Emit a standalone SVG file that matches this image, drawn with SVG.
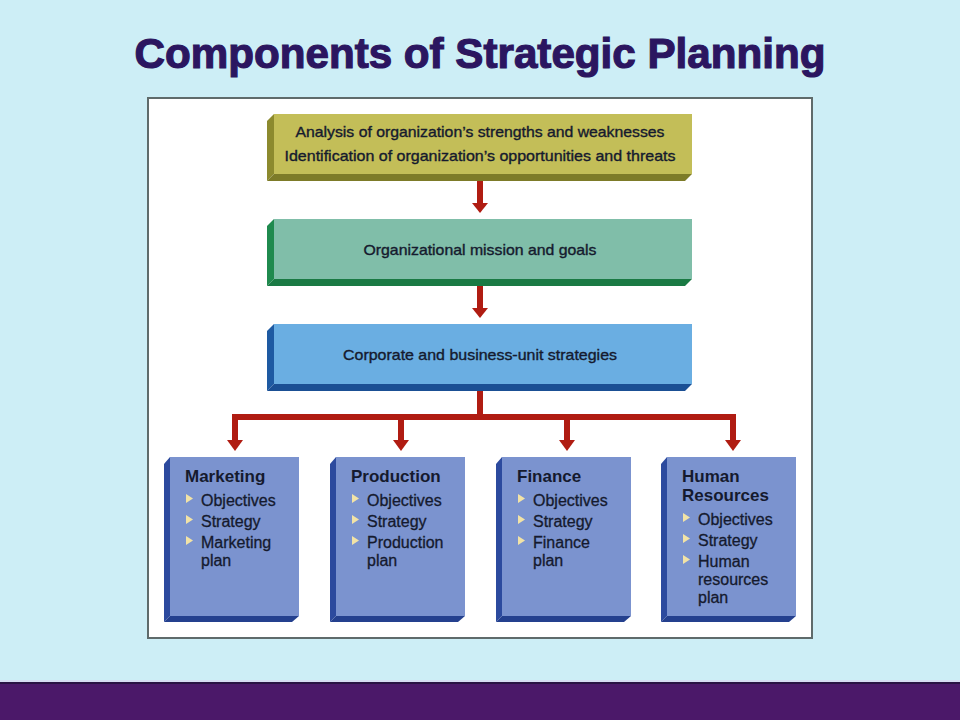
<svg xmlns="http://www.w3.org/2000/svg" width="960" height="720" viewBox="0 0 960 720">
<style>
.t{font-family:"Liberation Sans",Arial,sans-serif;fill:#151a2e}
.top{font-size:14.5px;text-anchor:middle;stroke:#151a2e;stroke-width:0.35px}
.hd{font-size:17px;font-weight:bold}
.it{font-size:16px;stroke:#151a2e;stroke-width:0.3px}
.bl{fill:#f2e3a6}
.con{fill:#b01c12}
.bf{fill:#7b93cf}
.bs{fill:#2c4a9e}
.bb{fill:#24408e}
</style>
<rect width="960" height="720" fill="#cdeef6"/>
<rect x="0" y="680" width="960" height="2" fill="#d6dcf2"/>
<rect x="0" y="682" width="960" height="2" fill="#2a1244"/>
<rect x="0" y="684" width="960" height="36" fill="#4b1869"/>
<text x="480" y="68" class="t" style="font-size:43px;font-weight:bold;fill:#2b1660;stroke:#2b1660;stroke-width:1.2px;text-anchor:middle" textLength="691" lengthAdjust="spacingAndGlyphs">Components of Strategic Planning</text>
<rect x="148" y="98" width="664" height="540" fill="#ffffff" stroke="#5f6b6b" stroke-width="2"/>

<g id="connectors">
<rect class="con" x="477" y="181" width="6" height="24"/>
<polygon class="con" points="472,203 488,203 480,213"/>
<rect class="con" x="477" y="286" width="6" height="24"/>
<polygon class="con" points="472,308 488,308 480,318"/>
<rect class="con" x="477" y="391" width="6" height="26"/>
<rect class="con" x="232" y="414" width="504" height="6"/>
<rect class="con" x="232" y="414" width="6" height="28"/>
<polygon class="con" points="227,440 243,440 235,451"/>
<rect class="con" x="398" y="414" width="6" height="28"/>
<polygon class="con" points="393,440 409,440 401,451"/>
<rect class="con" x="564" y="414" width="6" height="28"/>
<polygon class="con" points="559,440 575,440 567,451"/>
<rect class="con" x="730" y="414" width="6" height="28"/>
<polygon class="con" points="725,440 741,440 733,451"/>
</g>

<g id="analysis">
<polygon points="274,114 267,121 267,181 274,174" fill="#8c8a2e"/>
<polygon points="267,181 685,181 692,174 274,174" fill="#7d7b28"/>
<rect x="274" y="114" width="418" height="60" fill="#c3be58"/>
<text class="t top" x="480" y="137" textLength="369" lengthAdjust="spacingAndGlyphs">Analysis of organization’s strengths and weaknesses</text>
<text class="t top" x="480" y="161" textLength="391" lengthAdjust="spacingAndGlyphs">Identification of organization’s opportunities and threats</text>
</g>

<g id="mission">
<polygon points="274,219 267,226 267,286 274,279" fill="#1f8a4e"/>
<polygon points="267,286 685,286 692,279 274,279" fill="#1a7a44"/>
<rect x="274" y="219" width="418" height="60" fill="#80bea9"/>
<text class="t top" x="480" y="255" textLength="233" lengthAdjust="spacingAndGlyphs">Organizational mission and goals</text>
</g>

<g id="corporate">
<polygon points="274,324 267,331 267,391 274,384" fill="#1e5aa2"/>
<polygon points="267,391 685,391 692,384 274,384" fill="#1a4f94"/>
<rect x="274" y="324" width="418" height="60" fill="#6aaee2"/>
<text class="t top" x="480" y="360" textLength="274" lengthAdjust="spacingAndGlyphs">Corporate and business-unit strategies</text>
</g>

<g id="marketing">
<polygon class="bs" points="170,457 164,464 164,622 170,616"/>
<polygon class="bb" points="164,622 292,622 299,616 170,616"/>
<rect class="bf" x="170" y="457" width="129" height="159"/>
<text class="t hd" x="185" y="482">Marketing</text>
<polygon class="bl" points="186,494 186,503 193,498.5"/>
<text class="t it" x="201" y="506">Objectives</text>
<polygon class="bl" points="186,515 186,524 193,519.5"/>
<text class="t it" x="201" y="527">Strategy</text>
<polygon class="bl" points="186,536 186,545 193,540.5"/>
<text class="t it" x="201" y="548">Marketing</text>
<text class="t it" x="201" y="566">plan</text>
</g>

<g id="production">
<polygon class="bs" points="336,457 330,464 330,622 336,616"/>
<polygon class="bb" points="330,622 458,622 465,616 336,616"/>
<rect class="bf" x="336" y="457" width="129" height="159"/>
<text class="t hd" x="351" y="482">Production</text>
<polygon class="bl" points="352,494 352,503 359,498.5"/>
<text class="t it" x="367" y="506">Objectives</text>
<polygon class="bl" points="352,515 352,524 359,519.5"/>
<text class="t it" x="367" y="527">Strategy</text>
<polygon class="bl" points="352,536 352,545 359,540.5"/>
<text class="t it" x="367" y="548">Production</text>
<text class="t it" x="367" y="566">plan</text>
</g>

<g id="finance">
<polygon class="bs" points="502,457 496,464 496,622 502,616"/>
<polygon class="bb" points="496,622 624,622 631,616 502,616"/>
<rect class="bf" x="502" y="457" width="129" height="159"/>
<text class="t hd" x="517" y="482">Finance</text>
<polygon class="bl" points="518,494 518,503 525,498.5"/>
<text class="t it" x="533" y="506">Objectives</text>
<polygon class="bl" points="518,515 518,524 525,519.5"/>
<text class="t it" x="533" y="527">Strategy</text>
<polygon class="bl" points="518,536 518,545 525,540.5"/>
<text class="t it" x="533" y="548">Finance</text>
<text class="t it" x="533" y="566">plan</text>
</g>

<g id="human-resources">
<polygon class="bs" points="667,457 661,464 661,622 667,616"/>
<polygon class="bb" points="661,622 789,622 796,616 667,616"/>
<rect class="bf" x="667" y="457" width="129" height="159"/>
<text class="t hd" x="682" y="482">Human</text>
<text class="t hd" x="682" y="501">Resources</text>
<polygon class="bl" points="683,513 683,522 690,517.5"/>
<text class="t it" x="698" y="525">Objectives</text>
<polygon class="bl" points="683,534 683,543 690,538.5"/>
<text class="t it" x="698" y="546">Strategy</text>
<polygon class="bl" points="683,555 683,564 690,559.5"/>
<text class="t it" x="698" y="567">Human</text>
<text class="t it" x="698" y="585">resources</text>
<text class="t it" x="698" y="603">plan</text>
</g>
</svg>
